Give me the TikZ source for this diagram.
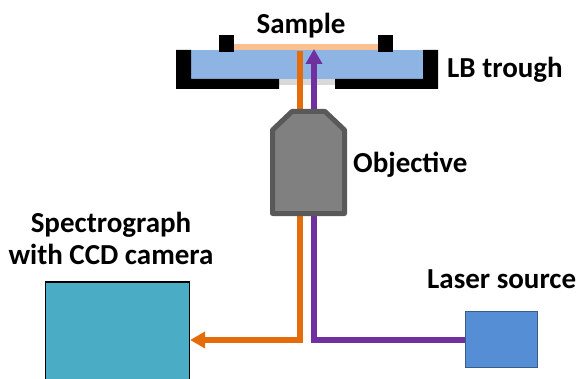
\documentclass[tikz,border=0pt]{standalone}
\usepackage{fontspec}
\setmainfont{Carlito}
\usepackage{tikz}
\usetikzlibrary{arrows.meta}
\definecolor{beamorange}{HTML}{E46C0A}
\definecolor{beampurple}{HTML}{7030A0}
\definecolor{watercol}{HTML}{8EB4E3}
\definecolor{samplecol}{HTML}{FAC090}
\definecolor{specfill}{HTML}{4BACC6}
\definecolor{laserfill}{HTML}{558ED5}
\definecolor{laserline}{HTML}{385D8A}
\def\drawbeam{\draw[line width=5.5pt]}
\def\blacknode{\node[draw=none,fill=black,inner sep=0pt]}
\def\labelnode{\node[font=\bfseries\fontsize{29}{32}\selectfont,align=center,inner sep=0pt]}
\tikzset{beamtip/.style={-{Triangle[length=15pt,width=16pt]}}}
\begin{document}
\begin{tikzpicture}[x=1pt,y=-1pt]
\clip (0,0) rectangle (577,379);
% trough
\node[fill=watercol,inner sep=0pt,minimum width=232pt,minimum height=29pt] (water) at (307,64.5) {};
\node[fill=samplecol,inner sep=0pt,minimum width=144pt,minimum height=6pt] (sample) at (306,47) {};
\node[fill=gray!30,inner sep=0pt,minimum width=56pt,minimum height=6pt] (window) at (307,82) {};
\blacknode[minimum width=15pt,minimum height=17pt] (clip_l) at (226.5,43.5) {};
\blacknode[minimum width=15pt,minimum height=17pt] (clip_r) at (385.5,43.5) {};
\fill (176,50) -- (191,50) -- (191,79) -- (279,79) -- (279,89) -- (176,89) -- cycle;
\fill (438,50) -- (423,50) -- (423,79) -- (335,79) -- (335,89) -- (438,89) -- cycle;
% boxes
\node[draw=black,line width=1.2pt,fill=specfill,inner sep=0pt,minimum width=144pt,minimum height=104pt] (spec) at (117.5,334) {};
\node[draw=laserline,line width=1.2pt,fill=laserfill,inner sep=0pt,minimum width=72pt,minimum height=56pt] (laser) at (501.5,339.5) {};
% beams
\coordinate (orange_top) at (300,51);
\coordinate (orange_c) at (300,340);
\coordinate (purple_top) at (314,49);
\coordinate (purple_c) at (314,340);
\drawbeam[color=beamorange,beamtip] (orange_top) -- (orange_c) -- (orange_c -| spec.east);
\drawbeam[color=beampurple,beamtip] (laser.west |- purple_c) -- (purple_c) -- (purple_top);
% objective
\draw[line width=5pt,line join=round,draw=black!65,fill=black!50] (272.5,213.5) -- (272.5,130) -- (292,111.5) -- (325,111.5) -- (344.5,130) -- (344.5,213.5) -- cycle;
% labels
\labelnode (sample_lab) at (301,25.5) {Sample};
\labelnode[anchor=west] (trough_lab) at (447,69.5) {LB trough};
\labelnode[anchor=west] (obj_lab) at (353,165) {Objective};
\labelnode (spec_lab) at (111,238) {Spectrograph\\with CCD camera};
\labelnode[anchor=west] (laser_lab) at (427,279.5) {Laser source};
\end{tikzpicture}
\end{document}
